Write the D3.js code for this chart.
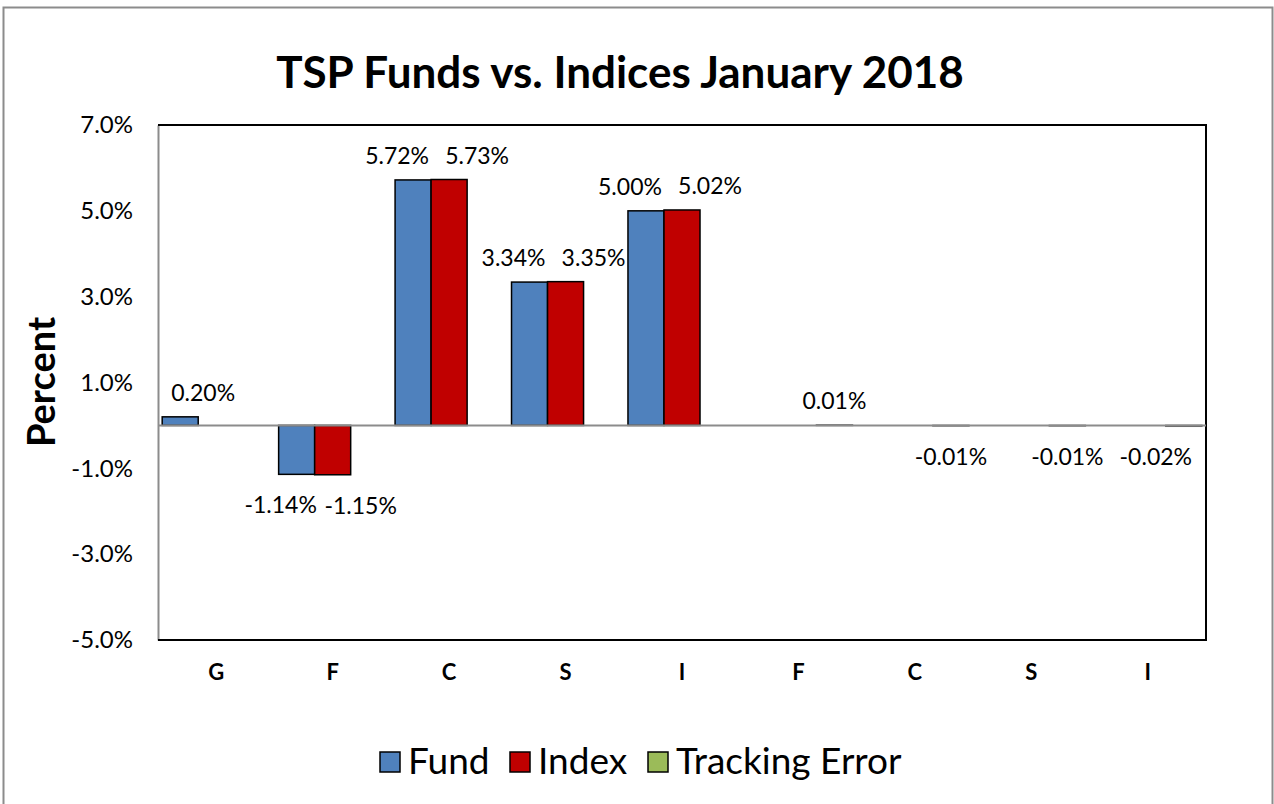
<!DOCTYPE html>
<html>
<head>
<meta charset="utf-8">
<script src="https://cdn.jsdelivr.net/npm/d3@7"></script>
<style>
  html, body { margin: 0; padding: 0; background: #fff; }
  svg { display: block; font-family: Lato, "Open Sans", sans-serif; }
</style>
</head>
<body>
<svg id="chart" width="1274" height="804"></svg>
<script>
// chart data
const categories = ['G', 'F', 'C', 'S', 'I', 'F', 'C', 'S', 'I'];
const seriesNames = ['Fund', 'Index', 'Tracking Error'];
const fundValues = [0.20, -1.14, 5.72, 3.34, 5.00, null, null, null, null];
const indexValues = [null, -1.15, 5.73, 3.35, 5.02, null, null, null, null];
const trackingValues = [null, null, null, null, null, 0.01, -0.01, -0.01, -0.02];
const yTicks = [-5, -3, -1, 1, 3, 5, 7];

const colors = ['#4F81BD', '#C00000', '#9BBB59'];
// label nudges (Excel labels were dragged apart a bit)
const labelDx = [-16, 28, 0];
const edgeNudge = { 0: 23, 8: -28 };

const svg = d3.select('#chart');
const plot = { left: 158, right: 1206, top: 125, bottom: 640 };
const font = 'Lato, "Open Sans", sans-serif';

// outer chart border
svg.append('rect')
  .attr('x', 3.5).attr('y', 7.5)
  .attr('width', 1269).attr('height', 800)
  .attr('fill', 'none').attr('stroke', '#8c8c8c').attr('stroke-width', 2);

const x0 = d3.scaleBand()
  .domain(d3.range(categories.length))
  .range([plot.left, plot.right])
  .paddingInner(0.072)
  .paddingOuter(0.036);

const x1 = d3.scaleBand()
  .domain(d3.range(seriesNames.length))
  .range([0, x0.bandwidth()]);

const y = d3.scaleLinear().domain([-5, 7]).range([plot.bottom, plot.top]);

// title
svg.append('text')
  .attr('x', 620).attr('y', 88)
  .attr('text-anchor', 'middle')
  .attr('font-size', 44).attr('font-weight', 'bold')
  .text('TSP Funds vs. Indices January 2018');

// y axis
const yAxis = svg.append('g')
  .attr('transform', `translate(${plot.left},0)`)
  .call(d3.axisLeft(y).tickValues(yTicks).tickSize(0).tickPadding(25)
    .tickFormat(d => d.toFixed(1) + '%'));
yAxis.select('.domain').attr('stroke', '#8c8c8c').attr('stroke-width', 2);
yAxis.selectAll('text').attr('font-size', 24).attr('fill', '#000')
  .style('font-family', font);

// plot border top/right/bottom
svg.append('path')
  .attr('d', `M${plot.left},${plot.top}H${plot.right}V${plot.bottom}H${plot.left}`)
  .attr('fill', 'none').attr('stroke', '#000').attr('stroke-width', 2);

// y axis title
svg.append('text')
  .attr('transform', `translate(55,382) rotate(-90)`)
  .attr('text-anchor', 'middle')
  .attr('font-size', 38).attr('font-weight', 'bold')
  .text('Percent');

// category labels
const xAxis = svg.append('g')
  .attr('transform', `translate(0,${plot.bottom})`)
  .call(d3.axisBottom(x0).tickSize(0).tickPadding(24).tickFormat(i => categories[i]));
xAxis.select('.domain').remove();
xAxis.selectAll('text').attr('font-size', 22).attr('font-weight', 'bold').attr('fill', '#000')
  .style('font-family', font);

// bars
const allSeries = [fundValues, indexValues, trackingValues];
const barData = [];
allSeries.forEach((vals, s) => {
  vals.forEach((v, i) => {
    if (v !== null) barData.push({ s: s, i: i, v: v });
  });
});

svg.append('g').selectAll('rect')
  .data(barData)
  .join('rect')
  .attr('x', d => x0(d.i) + x1(d.s))
  .attr('width', x1.bandwidth())
  .attr('y', d => y(Math.max(0, d.v)))
  .attr('height', d => Math.abs(y(d.v) - y(0)))
  .attr('fill', d => colors[d.s])
  .attr('stroke', d => d.s === 2 ? '#555' : '#000')
  .attr('stroke-width', 1.5);

// zero line
svg.append('line')
  .attr('x1', plot.left).attr('x2', plot.right)
  .attr('y1', y(0)).attr('y2', y(0))
  .attr('stroke', '#8c8c8c').attr('stroke-width', 2);

// value labels
svg.append('g').selectAll('text')
  .data(barData)
  .join('text')
  .attr('x', d => x0(d.i) + x1(d.s) + x1.bandwidth() / 2 +
    (d.i in edgeNudge ? edgeNudge[d.i] : labelDx[d.s]))
  .attr('y', d => d.v >= 0 ? y(d.v) - 16 : y(d.v) + 39)
  .attr('text-anchor', 'middle')
  .attr('font-size', 23)
  .text(d => d.v.toFixed(2) + '%');

// legend
const legendX = [380, 510, 648];
const legend = svg.append('g').selectAll('g')
  .data(seriesNames)
  .join('g')
  .attr('transform', (d, i) => `translate(${legendX[i]},752)`);
legend.append('rect')
  .attr('width', 20).attr('height', 20)
  .attr('fill', (d, i) => colors[i])
  .attr('stroke', '#000').attr('stroke-width', 1.5);
legend.append('text')
  .attr('x', 28).attr('y', 22)
  .attr('font-size', 37)
  .text(d => d);
</script>
</body>
</html>
